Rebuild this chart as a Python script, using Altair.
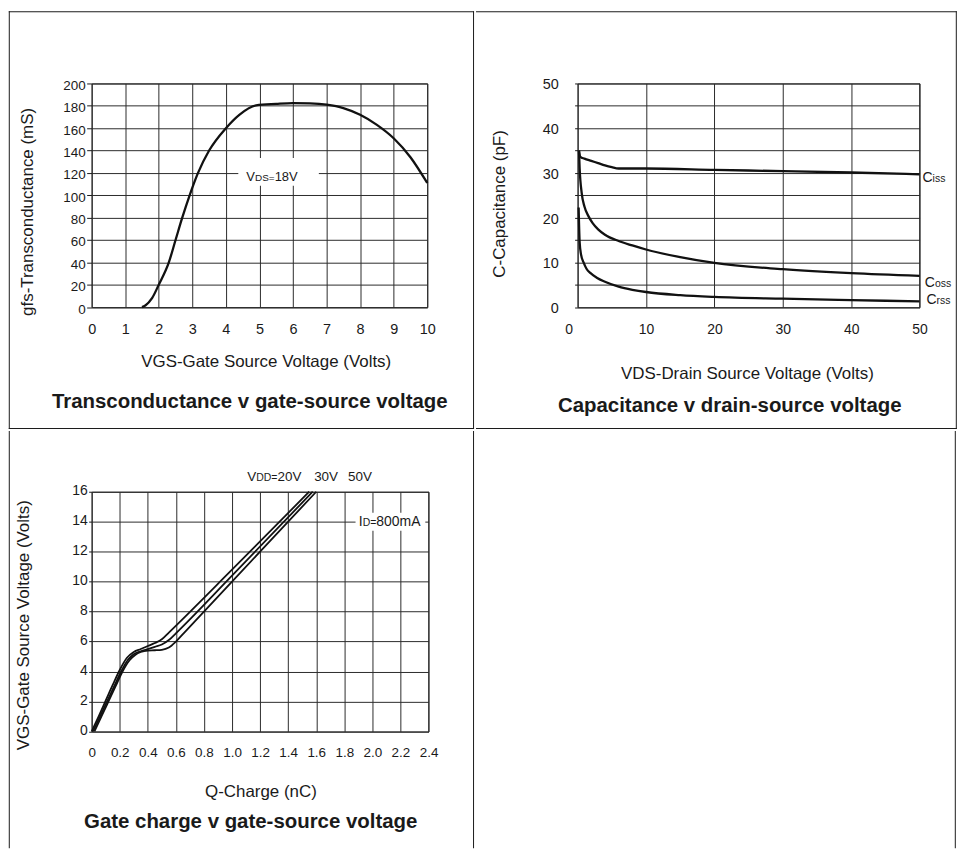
import altair as alt
import pandas as pd

FONT = "Liberation Sans"
INK = "#1a1a1a"
GRID = "#2b2b2b"
LINE = "#111111"

# ---------------- data ----------------
# Transconductance v gate-source voltage (VDS = 18 V)
vgs_volts = [1.5, 1.6, 1.8, 2.0, 2.3, 2.5, 2.7, 2.92, 3.17, 3.5, 4.0, 4.4, 4.9,
             5.5, 6.0, 6.5, 7.0, 7.5, 8.0, 8.5, 9.0, 9.5, 10.0]
gfs_ms = [0, 1.5, 8, 20, 40, 60, 80, 100, 120, 140, 160, 172, 180.5,
          181.8, 182.5, 182.2, 181, 178, 172, 163, 151, 134, 111]

# Capacitance v drain-source voltage
ciss_vds = [0.2, 0.4, 1, 2, 3, 4, 5, 6, 10, 20, 30, 40, 50]
ciss_pf = [35, 33.6, 33.2, 32.7, 32.2, 31.7, 31.3, 31.0, 31.0, 30.7, 30.4, 30.1, 29.7]
coss_vds = [0.2, 0.3, 0.6, 1.0, 1.6, 2.2, 3, 4, 6, 8, 10, 15, 20, 30, 40, 50]
coss_pf = [35, 31, 25.5, 22.5, 20.3, 18.8, 17.4, 16.2, 14.8, 13.8, 12.9, 11.2, 9.9, 8.5, 7.6, 7.0]
crss_vds = [0.15, 0.3, 0.5, 0.9, 1.3, 1.9, 2.8, 4, 6, 8, 10, 15, 20, 30, 40, 50]
crss_pf = [22.3, 14.5, 11.8, 9.9, 8.6, 7.6, 6.6, 5.7, 4.6, 3.9, 3.4, 2.7, 2.3, 1.9, 1.6, 1.3]

# Gate charge v gate-source voltage (ID = 800 mA)
q_20v = [0.00, 0.05, 0.10, 0.15, 0.20, 0.25, 0.30, 0.35, 0.40, 0.45, 0.50, 0.55, 1.00, 1.55]
vgs_20v = [0.0, 1.0, 2.05, 3.1, 4.1, 4.9, 5.3, 5.5, 5.7, 5.9, 6.15, 6.6, 10.8, 16.0]
q_30v = [0.01, 0.06, 0.11, 0.16, 0.21, 0.26, 0.30, 0.35, 0.40, 0.45, 0.50, 0.55, 0.60, 1.00, 1.575]
vgs_30v = [0.0, 1.0, 2.0, 3.0, 4.0, 4.8, 5.15, 5.35, 5.5, 5.65, 5.8, 6.1, 6.55, 10.4, 16.0]
q_50v = [0.02, 0.07, 0.12, 0.17, 0.22, 0.27, 0.31, 0.35, 0.40, 0.45, 0.50, 0.55, 0.60, 0.65, 1.00, 1.60]
vgs_50v = [0.0, 1.0, 2.0, 3.0, 4.0, 4.75, 5.1, 5.3, 5.4, 5.42, 5.45, 5.6, 6.0, 6.5, 10.0, 16.0]

# tick values
gfs_x_ticks = list(range(0, 11))
gfs_y_ticks = list(range(0, 201, 20))
cap_x_ticks = [0, 10, 20, 30, 40, 50]
cap_y_ticks = list(range(0, 51, 5))
qg_x_ticks = [0, 0.2, 0.4, 0.6, 0.8, 1.0, 1.2, 1.4, 1.6, 1.8, 2.0, 2.2, 2.4]
qg_y_ticks = list(range(0, 17, 2))

# ---------------- tables ----------------
df1 = pd.DataFrame({"vgs": vgs_volts, "gfs": gfs_ms})
df2 = pd.concat([
    pd.DataFrame({"vds": ciss_vds, "cap": ciss_pf, "series": "Ciss"}),
    pd.DataFrame({"vds": coss_vds, "cap": coss_pf, "series": "Coss"}),
    pd.DataFrame({"vds": crss_vds, "cap": crss_pf, "series": "Crss"}),
], ignore_index=True)
df3 = pd.concat([
    pd.DataFrame({"q": q_20v, "vgs": vgs_20v, "vdd": "20V"}),
    pd.DataFrame({"q": q_30v, "vgs": vgs_30v, "vdd": "30V"}),
    pd.DataFrame({"q": q_50v, "vgs": vgs_50v, "vdd": "50V"}),
], ignore_index=True)
one = pd.DataFrame({"k": [0]})


def rule_v(x, y1, y2):
    return alt.Chart(one).mark_rule(color=INK, strokeWidth=1, strokeCap="square").encode(
        x=alt.value(x), y=alt.value(y1), y2=alt.value(y2))


def rule_h(y, x1, x2):
    return alt.Chart(one).mark_rule(color=INK, strokeWidth=1, strokeCap="square").encode(
        y=alt.value(y), x=alt.value(x1), x2=alt.value(x2))


def txt(s, x, y, size, dx=0):
    return alt.Chart(one).mark_text(
        align="left", baseline="alphabetic", fontSize=size, dx=dx,
        color=INK, font=FONT).encode(
        x=alt.XDatum(datum=x, axis=None), y=alt.YDatum(datum=y, axis=None),
        text=alt.value(s))


def white_box(x1, x2, y1, y2):
    return alt.Chart(one).mark_rect(color="white").encode(
        x=alt.XDatum(datum=x1, axis=None), x2=alt.X2Datum(datum=x2),
        y=alt.YDatum(datum=y1, axis=None), y2=alt.Y2Datum(datum=y2))


def panel_title(text, offset, dx):
    return alt.TitleParams(text=text, orient="bottom", anchor="middle", frame="group",
                           offset=offset, dx=dx, baseline="middle", fontSize=20.5,
                           font=FONT, fontWeight="bold", color=INK)


# ---------------- panel 1 ----------------
W1, H1 = 337, 224.6
ax1x = alt.Axis(values=gfs_x_ticks, title="VGS-Gate Source Voltage (Volts)",
                titleX=174.8, titleY=54.9, titleAlign="center", titleBaseline="middle",
                ticks=False, labelPadding=22.9, labelBaseline="middle", labelFontSize=14.5,
                labelFlush=False, labelOverlap=False, grid=True, domain=False)
ax1y = alt.Axis(values=gfs_y_ticks, title="gfs-Transconductance (mS)",
                titleX=-64.2, titleY=128.5, titleAngle=270, titleAlign="center",
                titleBaseline="middle", tickSize=5, labelPadding=1.5, labelOffset=2,
                labelFontSize=13.5, labelOverlap=False, grid=True, domain=False)
line1 = alt.Chart(df1).mark_line(color=LINE, strokeWidth=2.3, interpolate="monotone").encode(
    x=alt.X("vgs:Q", scale=alt.Scale(domain=[0, 10], nice=False, zero=False), axis=ax1x),
    y=alt.Y("gfs:Q", scale=alt.Scale(domain=[0, 200], nice=False), axis=ax1y))
p1 = alt.layer(
    line1,
    white_box(4.37, 6.77, 108.6, 133.4),
    txt("V", 4.61, 112.7, 13),
    txt("DS=", 4.61, 112.7, 10, dx=8.7),
    txt("18V", 4.61, 112.7, 13, dx=28.4),
    rule_v(-82.7, -72.0, 346.5), rule_v(383.5, -72.0, 346.5),
    rule_h(-72.0, -82.7, 383.5), rule_h(346.5, -82.7, 383.5),
).resolve_axis(x="independent", y="independent").properties(
    width=W1, height=H1,
    title=panel_title("Transconductance v gate-source voltage", -27.5, -9.7))

# ---------------- panel 2 ----------------
W2, H2 = 343.4, 224.7
ax2x = alt.Axis(values=cap_x_ticks, title="VDS-Drain Source Voltage (Volts)",
                titleX=170, titleY=66.8, titleAlign="center", titleBaseline="middle",
                ticks=False, labelPadding=22.8, labelBaseline="middle", labelFontSize=14,
                labelOffset={"condition": {"test": "datum.value === 0", "value": -9}, "value": 0},
                labelFlush=False, labelOverlap=False, grid=True, domain=False)
ax2y = alt.Axis(values=cap_y_ticks, title="C-Capacitance (pF)",
                labelExpr="datum.value % 10 === 0 ? datum.label : ''",
                titleX=-78.2, titleY=120.5, titleAngle=270, titleAlign="center",
                titleBaseline="middle", tickSize=3, labelPadding=16.5, labelOffset=1.5,
                labelFontSize=14.5, labelOverlap=False, grid=True, domain=False)
line2 = alt.Chart(df2).mark_line(color=LINE, strokeWidth=2.3, interpolate="monotone").encode(
    x=alt.X("vds:Q", scale=alt.Scale(domain=[0, 50], nice=False, zero=False), axis=ax2x),
    y=alt.Y("cap:Q", scale=alt.Scale(domain=[0, 50], nice=False), axis=ax2y),
    detail="series:N")
p2 = alt.layer(
    line2,
    txt("C", 50, 28.0, 14, dx=3), txt("iss", 50, 28.0, 10.5, dx=13.1),
    txt("C", 50, 4.6, 14, dx=5.3), txt("oss", 50, 4.6, 10.5, dx=15.4),
    txt("C", 50, 0.8, 14, dx=7), txt("rss", 50, 0.8, 10.5, dx=17.1),
    rule_h(-72.0, -101.5, 380.3), rule_v(380.3, -72.0, 346.5),
    rule_h(346.5, -101.5, 380.3),
).resolve_axis(x="independent", y="independent").properties(
    width=W2, height=H2,
    title=panel_title("Capacitance v drain-source voltage", -23.5, -18.9))

# ---------------- panel 3 ----------------
W3, H3 = 338.3, 240.7
ax3x = alt.Axis(values=qg_x_ticks, title="Q-Charge (nC)",
                labelExpr="datum.value === 0 ? '0' : format(datum.value, '.1f')",
                titleX=169.5, titleY=60.8, titleAlign="center", titleBaseline="middle",
                ticks=False, labelPadding=20.8, labelBaseline="middle", labelFontSize=13.5,
                labelFlush=False, labelOverlap=False, grid=True, domain=False)
ax3y = alt.Axis(values=qg_y_ticks, title="VGS-Gate Source Voltage (Volts)",
                titleX=-68.2, titleY=133.5, titleAngle=270, titleAlign="center",
                titleBaseline="middle", tickSize=3, labelPadding=1.4, labelOffset=-1,
                labelFontSize=14, labelOverlap=False, grid=True, domain=False)
line3 = alt.Chart(df3).mark_line(color=LINE, strokeWidth=1.8, interpolate="monotone").encode(
    x=alt.X("q:Q", scale=alt.Scale(domain=[0, 2.4], nice=False, zero=False), axis=ax3x),
    y=alt.Y("vgs:Q", scale=alt.Scale(domain=[0, 16], nice=False), axis=ax3y),
    detail="vdd:N")
p3 = alt.layer(
    line3,
    white_box(1.88, 2.377, 13.4, 14.6),
    txt("I", 1.903, 13.72, 14), txt("D=", 1.903, 13.72, 10.5, dx=3.9),
    txt("800mA", 1.903, 13.72, 14, dx=17.6),
    txt("V", 1.109, 16.69, 13.5), txt("DD=", 1.109, 16.69, 10.5, dx=9.0),
    txt("20V", 1.109, 16.69, 13.5, dx=30.3),
    txt("30V", 1.585, 16.69, 13.5), txt("50V", 1.826, 16.69, 13.5),
    rule_v(-82.7, -60.5, 357.5), rule_v(383.5, -60.5, 357.5),
).resolve_axis(x="independent", y="independent").properties(
    width=W3, height=H3,
    title=panel_title("Gate charge v gate-source voltage", -26.5, -9.4))

# ---------------- empty cell ----------------
c4 = alt.Chart(one).mark_rule(color=INK, strokeWidth=1, strokeCap="square").encode(
    x=alt.value(482.3), y=alt.value(-60.5), y2=alt.value(357.5)
).properties(width=1, height=1, view=alt.ViewBackground(strokeOpacity=0))

chart = alt.vconcat(
    alt.hconcat(p1, p2, spacing=0),
    alt.hconcat(p3, c4, spacing=0),
    spacing=0,
).properties(padding=0).configure_view(
    stroke=INK, strokeWidth=1
).configure_axis(
    labelFont=FONT, titleFont=FONT, labelColor=INK, titleColor=INK,
    titleFontSize=17, titleFontWeight="normal", gridColor=GRID, gridWidth=1,
    gridOpacity=1, tickColor=INK, tickWidth=1
).configure_concat(spacing=0)

chart.save("out.html", embed_options={"renderer": "svg", "actions": False})
